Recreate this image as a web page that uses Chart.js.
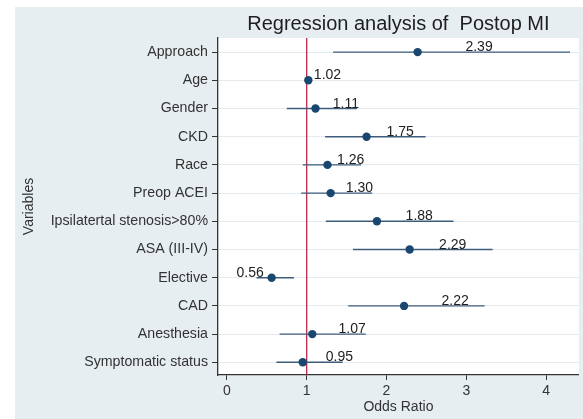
<!DOCTYPE html>
<html><head><meta charset="utf-8">
<script src="https://cdn.jsdelivr.net/npm/chart.js@4/dist/chart.umd.min.js"></script>
<style>html,body{margin:0;padding:0;background:#fff;} #wrap{width:583px;height:419px;position:relative}</style>
</head><body><div id="wrap"><canvas id="c" width="583" height="419"></canvas></div>
<script>
const variables = ["Approach","Age","Gender","CKD","Race","Preop ACEI","Ipsilatertal stenosis>80%","ASA (III-IV)","Elective","CAD","Anesthesia","Symptomatic status"];
const oddsRatio = [2.39,1.02,1.11,1.75,1.26,1.30,1.88,2.29,0.56,2.22,1.07,0.95];
const ciLower   = [1.33,1.01,0.75,1.23,0.95,0.93,1.24,1.58,0.37,1.52,0.66,0.62];
const ciUpper   = [4.30,1.03,1.63,2.49,1.68,1.82,2.84,3.33,0.84,3.23,1.74,1.45];
const labelAt   = [3.16,1.26,1.49,2.17,1.55,1.66,2.41,2.83,0.29,2.86,1.57,1.41];
const valueText = ["2.39","1.02","1.11","1.75","1.26","1.30","1.88","2.29","0.56","2.22","1.07","0.95"];
const xTicks = [0,1,2,3,4];
const refValue = 1;
const chartTitle = "Regression analysis of  Postop MI";

const FONT = "'Liberation Sans', Arial, sans-serif";
const rows = variables.map((_, i) => i);

const datasets = [];
datasets.push({
  type: 'scatter', order: 0,
  data: oddsRatio.map((v, i) => ({x: v, y: i})),
  backgroundColor: '#1a476f', borderColor: '#1a476f',
  pointRadius: 4.2, pointBorderWidth: 0
});
rows.forEach(i => {
  datasets.push({
    type: 'line', order: 1,
    data: [{x: ciLower[i], y: i}, {x: ciUpper[i], y: i}],
    borderColor: '#3d5c7c', borderWidth: 1.4, pointRadius: 0, fill: false
  });
});
datasets.push({
  type: 'line', order: 2,
  data: [{x: refValue, y: -0.5}, {x: refValue, y: 11.45}],
  borderColor: '#b3163e', borderWidth: 1.2, pointRadius: 0, fill: false
});

const bgPlugin = {
  id: 'bg',
  beforeDraw(chart) {
    const {ctx, chartArea: a} = chart;
    ctx.save();
    ctx.fillStyle = '#ffffff';
    ctx.fillRect(0, 0, chart.width, chart.height);
    ctx.fillStyle = '#e7eef1';
    ctx.fillRect(15, 7, chart.width - 15, chart.height - 7);
    ctx.fillStyle = '#ffffff';
    ctx.fillRect(a.left, a.top, a.right - a.left, a.bottom - a.top);
    ctx.restore();
  }
};

const labelPlugin = {
  id: 'labels',
  afterDatasetsDraw(chart) {
    const {ctx, scales: {x, y}} = chart;
    ctx.save();
    ctx.font = "14px " + FONT;
    ctx.fillStyle = '#222';
    ctx.textAlign = 'center';
    ctx.textBaseline = 'alphabetic';
    rows.forEach(i => {
      ctx.fillText(valueText[i], x.getPixelForValue(labelAt[i]), y.getPixelForValue(i) - 1);
    });
    ctx.restore();
  },
  afterDraw(chart) {
    const {ctx, chartArea: a} = chart;
    ctx.save();
    ctx.font = "20px " + FONT;
    ctx.fillStyle = '#1e1e1e';
    ctx.textAlign = 'center';
    ctx.textBaseline = 'alphabetic';
    ctx.fillText(chartTitle, (a.left + a.right) / 2, 29.5);
    ctx.restore();
  }
};

new Chart(document.getElementById('c'), {
  type: 'scatter',
  data: {datasets},
  options: {
    responsive: false, animation: false, devicePixelRatio: 1,
    layout: {padding: {top: 38, right: 1, left: 0, bottom: 0}},
    plugins: {legend: {display: false}, tooltip: {enabled: false}},
    scales: {
      x: {
        type: 'linear', min: -0.112, max: 4.41,
        afterBuildTicks: s => { s.ticks = xTicks.map(v => ({value: v})); },
        afterFit: s => { s.height = 44; },
        grid: {drawOnChartArea: false, drawTicks: true, tickLength: 5, tickColor: '#333', lineWidth: 1},
        border: {color: '#333', width: 1.3},
        ticks: {font: {size: 14, family: FONT}, color: '#333', padding: 3, maxRotation: 0},
        title: {display: true, text: 'Odds Ratio', font: {size: 14, family: FONT}, color: '#333', padding: {top: 0, bottom: 3}}
      },
      y: {
        type: 'linear', min: -0.5, max: 11.45, reverse: true,
        afterBuildTicks: s => { s.ticks = rows.map(v => ({value: v})); },
        afterFit: s => { s.width = 218; },
        grid: {color: '#e5eaed', drawTicks: true, tickLength: 6, tickColor: '#333', lineWidth: 1},
        border: {color: '#333', width: 1.3},
        ticks: {font: {size: 14.2, family: FONT}, color: '#333', padding: 4, autoSkip: false,
                callback: v => variables[v] !== undefined ? variables[v] : ''},
        title: {display: true, text: 'Variables', font: {size: 14, family: FONT}, color: '#333', padding: {top: 21, bottom: 0}}
      }
    }
  },
  plugins: [bgPlugin, labelPlugin]
});
</script>
</body></html>
